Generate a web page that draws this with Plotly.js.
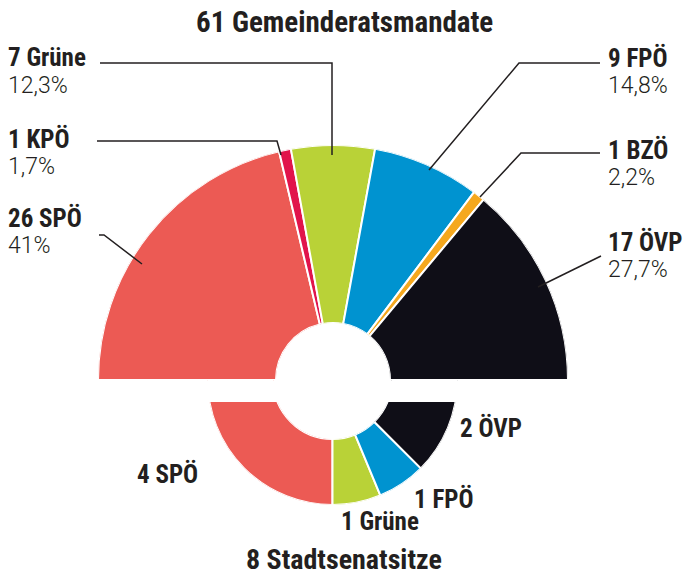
<!DOCTYPE html>
<html>
<head>
<meta charset="utf-8">
<script src="https://cdn.plot.ly/plotly-3.0.1.min.js"></script>
<style>
  html, body { margin: 0; padding: 0; background: #ffffff; }
  #chart { width: 688px; height: 576px; }
</style>
</head>
<body>
<div id="chart"></div>
<script>
// ---- data ----
const councilTitle = '61 Gemeinderatsmandate';
const councilParties = ['SPÖ', 'KPÖ', 'Grüne', 'FPÖ', 'BZÖ', 'ÖVP'];
const councilSeats = [26, 1, 7, 9, 1, 17];
const councilVotePct = [41, 1.7, 12.3, 14.8, 2.2, 27.7];

const senateTitle = '8 Stadtsenatsitze';
const senateParties = ['SPÖ', 'Grüne', 'FPÖ', 'ÖVP'];
const senateSeats = [4, 1, 1, 2];

const partyColors = {
  'SPÖ': '#EC5A54',
  'KPÖ': '#E1144B',
  'Grüne': '#B9D237',
  'FPÖ': '#0093D0',
  'BZÖ': '#F5A81E',
  'ÖVP': '#0F0E17'
};

// ---- helpers ----
const W = 688, H = 576;
const px = x => x / W;
const py = y => 1 - y / H;

function halfRing(values) {
  const total = values.reduce((a, b) => a + b, 0);
  let acc = 0;
  const theta = [], width = [];
  values.forEach(v => {
    const w = 180 * v / total;
    theta.push(acc + w / 2);
    width.push(w);
    acc += w;
  });
  return { theta, width };
}

const ringTop = halfRing(councilSeats);
const ringBot = halfRing(senateSeats);

const traces = [
  {
    type: 'barpolar',
    subplot: 'polar',
    r: councilSeats.map(() => 1),
    theta: ringTop.theta,
    width: ringTop.width,
    marker: {
      color: councilParties.map(p => partyColors[p]),
      line: { color: '#ffffff', width: 2 }
    },
    hoverinfo: 'skip'
  },
  {
    type: 'barpolar',
    subplot: 'polar2',
    r: senateSeats.map(() => 1),
    theta: ringBot.theta,
    width: ringBot.width,
    marker: {
      color: senateParties.map(p => partyColors[p]),
      line: { color: '#ffffff', width: 2 }
    },
    hoverinfo: 'skip'
  }
];

const hiddenAngular = (dir) => ({
  visible: false, rotation: 180, direction: dir,
  showgrid: false, showline: false, showticklabels: false, ticks: ''
});
const hiddenRadial = { visible: false, range: [0, 1], showgrid: false, showline: false, showticklabels: false, ticks: '' };

const boldFont = { family: '"Liberation Sans Narrow", "Roboto Condensed", "Arial Narrow", Roboto, sans-serif', weight: 700, color: '#231F20' };
const lightFont = { family: 'Roboto, "Liberation Sans", sans-serif', weight: 300, color: '#231F20' };

const fmtPct = v => String(v).replace('.', ',') + '%';

// label anchor positions (pixels): [x, yName, yPct]
const councilLabelPos = {
  'Grüne': [7, 58, 85.5],
  'KPÖ':   [7, 139, 166],
  'SPÖ':   [7, 218, 245],
  'FPÖ':   [607, 58, 85.5],
  'BZÖ':   [607, 150, 177],
  'ÖVP':   [607, 242, 269.5]
};
const senateLabelPos = {
  'ÖVP':   [459, 428],
  'SPÖ':   [136, 474],
  'FPÖ':   [413, 499],
  'Grüne': [340, 521]
};

const annotations = [];
annotations.push({
  xref: 'paper', yref: 'paper', x: px(344), y: py(22), xanchor: 'center', yanchor: 'middle',
  text: councilTitle, showarrow: false, borderpad: 0, font: Object.assign({ size: 29 }, boldFont)
});
annotations.push({
  xref: 'paper', yref: 'paper', x: px(344), y: py(559.5), xanchor: 'center', yanchor: 'middle',
  text: senateTitle, showarrow: false, borderpad: 0, font: Object.assign({ size: 28 }, boldFont)
});
councilParties.forEach((p, i) => {
  const pos = councilLabelPos[p];
  annotations.push({
    xref: 'paper', yref: 'paper', x: px(pos[0]), y: py(pos[1]), xanchor: 'left', yanchor: 'middle',
    text: councilSeats[i] + ' ' + p, showarrow: false, borderpad: 0,
    font: Object.assign({ size: 25 }, boldFont)
  });
  annotations.push({
    xref: 'paper', yref: 'paper', x: px(pos[0]), y: py(pos[2]), xanchor: 'left', yanchor: 'middle',
    text: fmtPct(councilVotePct[i]), showarrow: false, borderpad: 0,
    font: Object.assign({ size: 23 }, lightFont)
  });
});
senateParties.forEach((p, i) => {
  const pos = senateLabelPos[p];
  annotations.push({
    xref: 'paper', yref: 'paper', x: px(pos[0]), y: py(pos[1]), xanchor: 'left', yanchor: 'middle',
    text: senateSeats[i] + ' ' + p, showarrow: false, borderpad: 0,
    font: Object.assign({ size: 25 }, boldFont)
  });
});

// leader lines (pixel coords) converted to paper
const leaderPaths = [
  [[100, 63], [332, 63], [332, 155]],          // Grüne
  [[97, 141], [277, 141], [281, 155]],         // KPÖ
  [[99, 235], [104, 235], [142, 264]],         // SPÖ
  [[600, 63], [519, 63], [429, 170]],          // FPÖ
  [[600, 153], [521, 153], [480, 197]],        // BZÖ
  [[601, 256], [538, 287]]                     // ÖVP
];
const shapes = leaderPaths.map(pts => ({
  type: 'path', xref: 'paper', yref: 'paper', layer: 'above',
  path: pts.map((p, k) => (k ? 'L' : 'M') + px(p[0]).toFixed(5) + ',' + py(p[1]).toFixed(5)).join(' '),
  line: { color: '#231F20', width: 1.5 }
}));
// white gap separating the two half rings
shapes.push({
  type: 'rect', xref: 'paper', yref: 'paper', layer: 'above',
  x0: px(195), x1: px(470), y0: py(381), y1: py(402),
  fillcolor: '#ffffff', line: { width: 0 }
});

const layout = {
  width: W, height: H,
  margin: { l: 0, r: 0, t: 0, b: 0, pad: 0 },
  paper_bgcolor: '#ffffff',
  showlegend: false,
  polar: {
    domain: { x: [px(98), px(568)], y: [py(380), py(145)] },
    sector: [0, 180],
    hole: 57 / 235,
    bgcolor: 'rgba(0,0,0,0)',
    angularaxis: hiddenAngular('clockwise'),
    radialaxis: hiddenRadial,
    bargap: 0
  },
  polar2: {
    domain: { x: [px(207.5), px(457.5)], y: [py(505), py(380)] },
    sector: [180, 360],
    hole: 59 / 125,
    bgcolor: 'rgba(0,0,0,0)',
    angularaxis: hiddenAngular('counterclockwise'),
    radialaxis: hiddenRadial,
    bargap: 0
  },
  annotations: annotations,
  shapes: shapes
};

Plotly.newPlot('chart', traces, layout, { displayModeBar: false, staticPlot: true });
</script>
</body>
</html>
